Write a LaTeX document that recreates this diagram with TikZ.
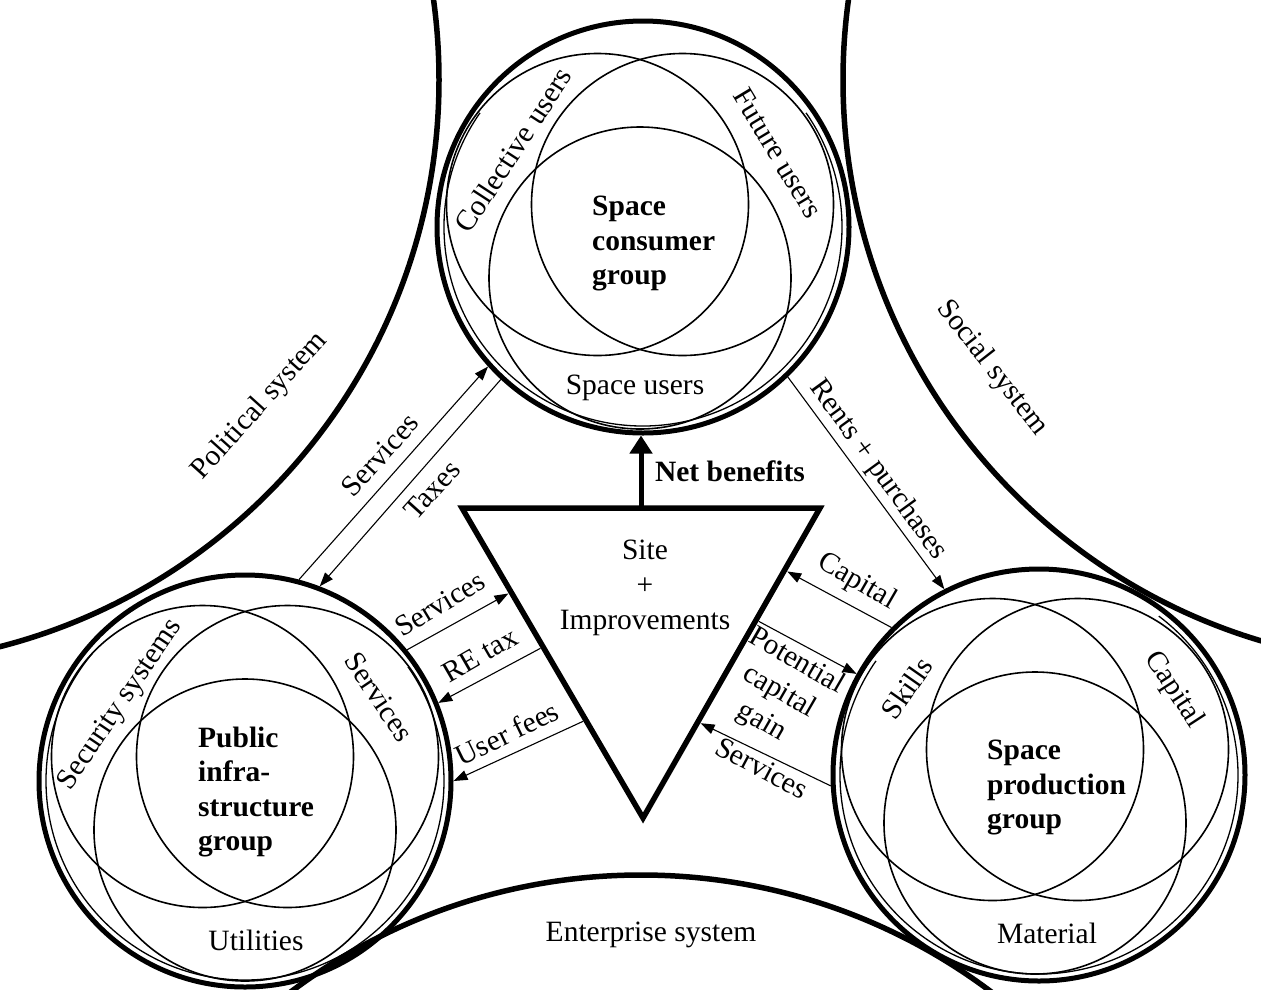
\documentclass[tikz,border=0pt]{standalone}
\usepackage{fontspec}
\setmainfont{Liberation Serif}
\usetikzlibrary{arrows.meta,calc}

\begin{document}
\begin{tikzpicture}[x=1pt,y=-1pt,
  txt/.style={font=\fontsize{29.5}{35}\selectfont, inner sep=0pt},
  bold/.style={font=\fontsize{29.5}{34.5}\selectfont\bfseries, inner sep=0pt},
  ring/.style={circle, draw, line width=5pt, minimum size=412pt, inner sep=0pt},
  halo/.style={line width=1.3pt},
  venn/.style={circle, draw, line width=1.6pt, minimum size=302pt, inner sep=0pt},
  system/.style={line width=5.5pt},
  flow/.style={line width=1.1pt, -{Triangle[length=14pt,width=10pt]}},
  benefit/.style={line width=5pt, -{Triangle[length=18pt,width=22pt]}},
]
\fill[white] (0,0) rectangle (1261,989);
\useasboundingbox (0,0) rectangle (1261,989);

% the three surrounding systems
\begin{scope}
  \clip (0,0) rectangle (1261,989);
  \draw[system] (-146,80) circle[radius=585pt];
  \draw[system] (1428,80) circle[radius=585pt];
  \draw[system] (641,1458) circle[radius=583pt];
\end{scope}
\node[txt, rotate=48] (polsys) at (260,406) {Political system};
\node[txt, rotate=-52] (socsys) at (992,368) {Social system};
\node[txt] (entsys) at (651,935) {Enterprise system};

% space consumer group
\node[ring] (cons) at (643,227) {};
\draw[halo] (cons.center) ++(145:199pt) arc[start angle=145, end angle=395, radius=199pt];
\node[venn] (consA) at (597.5,204.5) {};
\node[venn] (consB) at (682.5,204.5) {};
\node[venn] (consC) at (640,278) {};
\node[txt, rotate=57] (lcoll) at (513,150) {Collective users};
\node[txt, rotate=-59] (lfut) at (778,153) {Future users};
\node[txt] (lsu) at (635,388) {Space users};
\node[bold, align=left, anchor=west] (lcons) at (592,243.5) {Space\\consumer\\group};

% public infrastructure group
\node[ring] (infra) at (245,781) {};
\draw[halo] (infra.center) ++(140:199pt) arc[start angle=140, end angle=395, radius=199pt];
\node[venn] (infraA) at (202.5,756.5) {};
\node[venn] (infraB) at (287.5,756.5) {};
\node[venn] (infraC) at (245,830) {};
\node[txt, rotate=56] (lsec) at (121,705) {Security systems};
\node[txt, rotate=-56] (lserv) at (379,697) {Services};
\node[txt] (lutil) at (256,940) {Utilities};
\node[bold, align=left, anchor=west] (linfra) at (198,792) {Public\\infra-\\structure\\group};

% space production group
\node[ring] (prod) at (1039,775) {};
\draw[halo] (prod.center) ++(145:199pt) arc[start angle=145, end angle=413, radius=199pt];
\node[venn] (prodA) at (992.5,749.5) {};
\node[venn] (prodB) at (1077.5,749.5) {};
\node[venn] (prodC) at (1035,823) {};
\node[txt, rotate=55] (lskill) at (907,688) {Skills};
\node[txt, rotate=-57] (lcap) at (1174,690) {Capital};
\node[txt] (lmat) at (1047,933) {Material};
\node[bold, align=left, anchor=west] (lprod) at (987,787.5) {Space\\production\\group};

% site and improvements
\coordinate (TL) at (462,508);
\coordinate (TR) at (820,508);
\coordinate (BT) at (643,818);
\coordinate (TM) at (641,508);
\draw[line width=5.5pt, line join=miter] (TL) -- (TR) -- (BT) -- cycle;
\node[txt, align=center] (site) at (645,588) {Site\\+\\Improvements};
\draw[benefit] (TM) -- (TM |- cons.south);
\node[bold] (lnet) at (730,471) {Net benefits};

% flows between the groups
\draw[flow] (infra.75) -- (cons.222);
\draw[flow] (cons.227) -- (infra.69);
\draw[flow] (cons.314) -- (prod.117);
\node[txt, rotate=48] (fserv) at (380,455) {Services};
\node[txt, rotate=48] (ftax) at (432,490) {Taxes};
\node[txt, rotate=-54] (frent) at (878,470) {Rents + purchases};

% flows to and from the site
\draw[flow, shorten >=3pt] (infra.39) -- ($(TL)!0.271!(BT)$);
\draw[flow, shorten <=3pt] ($(TL)!0.448!(BT)$) -- (infra.22);
\draw[flow, shorten <=3pt] ($(TL)!0.684!(BT)$) -- (infra.0);
\node[txt, rotate=31] (fserv2) at (440,604) {Services};
\node[txt, rotate=30] (fre) at (480,655) {RE tax};
\node[txt, rotate=26] (ffee) at (507,733) {User fees};

\draw[flow, shorten >=3pt] (prod.135) -- ($(TR)!0.2!(BT)$);
\draw[flow, shorten <=3pt] ($(TR)!0.361!(BT)$) -- (prod.151);
\draw[flow, shorten >=3pt] (prod.183) -- ($(TR)!0.69!(BT)$);
\node[txt, rotate=-30] (fcap) at (857,582) {Capital};
\node[txt, rotate=-30, align=center] (fgain) at (779,692) {Potential\\capital\\gain};
\node[txt, rotate=-28] (fserv3) at (762,768) {Services};
\end{tikzpicture}
\end{document}
